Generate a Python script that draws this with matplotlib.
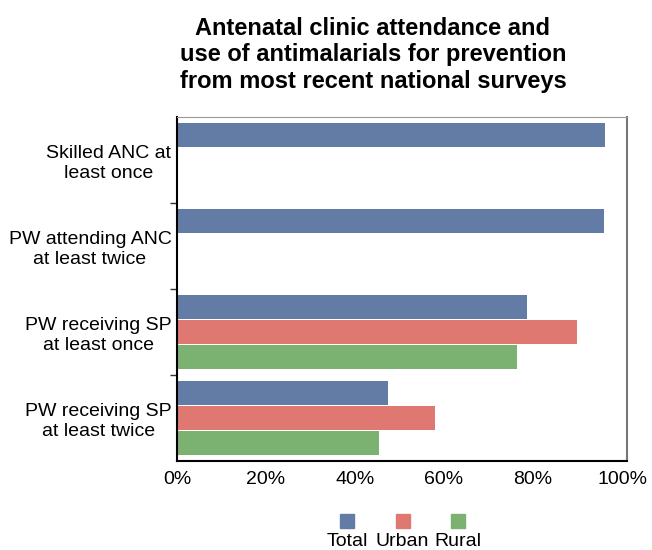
import numpy as np
import matplotlib.pyplot as plt
from matplotlib.patches import Rectangle

plt.rcParams['font.family'] = ['Liberation Sans', 'DejaVu Sans']

categories = ['Skilled ANC at\nleast once', 'PW attending ANC\nat least twice',
              'PW receiving SP\nat least once', 'PW receiving SP\nat least twice']
series = ['Total', 'Urban', 'Rural']
total = [96.2, 96.0, 78.7, 47.4]
urban = [np.nan, np.nan, 89.9, 58.0]
rural = [np.nan, np.nan, 76.4, 45.4]
xticks = [0, 20, 40, 60, 80, 100]
colors = ['#637ca6', '#de7870', '#7bb271']

fig = plt.figure(figsize=(6.52, 5.5), dpi=100)
ax = fig.add_axes([0.2715, 0.1618, 0.69, 0.6255])

y = np.arange(len(categories))
offsets = [-0.29, 0.0, 0.29]
for vals, off, col in zip([total, urban, rural], offsets, colors):
    v = np.array(vals, dtype=float)
    ok = ~np.isnan(v)
    ax.barh(y[ok] + off, v[ok], height=0.28, color=col)

ax.set_xlim(0, 101.1)
ax.set_ylim(3.5, -0.5)
ax.set_xticks(xticks)
ax.set_xticklabels([f'{t}%' for t in xticks], fontsize=14)
ax.tick_params(axis='x', length=0, pad=7)

# group boundaries get tick marks, labels sit at the group centers
ax.set_yticks([0.5, 1.5, 2.5])
ax.set_yticklabels([])
ax.tick_params(axis='y', which='major', length=5, width=1, color='#333333')
ax.set_yticks(y, minor=True)
ax.set_yticklabels(categories, minor=True, fontsize=14, ha='right', multialignment='center')
ax.tick_params(axis='y', which='minor', length=0, pad=4)

for s in ['left', 'bottom']:
    ax.spines[s].set_color('black')
    ax.spines[s].set_linewidth(1.5)
ax.spines['top'].set_color('#999999')
ax.spines['right'].set_color('#777777')
ax.spines['right'].set_linewidth(1.5)

fig.text(0.572, 0.9, 'Antenatal clinic attendance and\nuse of antimalarials for prevention\nfrom most recent national surveys',
         ha='center', va='center', fontsize=17, fontweight='bold', linespacing=1.17)

# legend: swatches above their labels
for i, (name, col) in enumerate(zip(series, colors)):
    cx = 347 + i * 55.5
    fig.add_artist(Rectangle(((cx - 7) / 652, 1 - 528 / 550), 14 / 652, 14 / 550,
                             color=col, transform=fig.transFigure))
    fig.text(cx / 652, 1 - 541 / 550, name, ha='center', va='center', fontsize=14)

fig.savefig('out.png', dpi=100)
